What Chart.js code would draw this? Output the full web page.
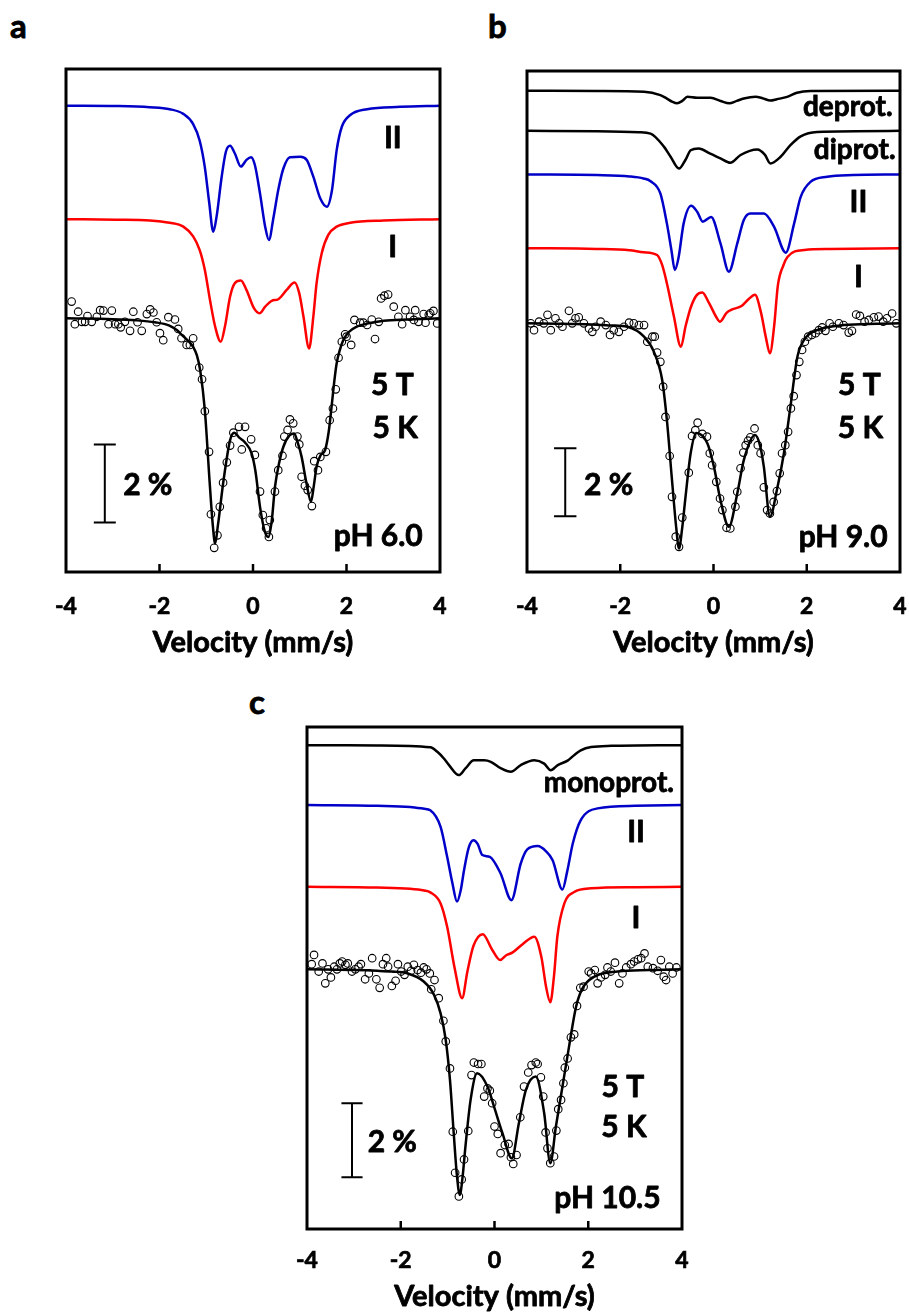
<!DOCTYPE html>
<html lang="en">
<head>
  <meta charset="UTF-8" />
  <title>Mössbauer spectra, pH 6.0 / 9.0 / 10.5</title>
  <script src="https://cdn.jsdelivr.net/npm/chart.js@4.4.0/dist/chart.umd.min.js"></script>
  <style>
    html, body { margin: 0; padding: 0; background: #fff; }
    body { width: 909px; height: 1316px; position: relative; overflow: hidden; }
    canvas { position: absolute; }
    .tag { position: absolute; font: bold 33px Lato, sans-serif; line-height: 1; color: #000;
           -webkit-text-stroke: 0.8px #000; }
  </style>
</head>
<body>

  <div class="tag" style="left:10px; top:9px">a</div>
  <div class="tag" style="left:488px; top:9px">b</div>
  <div class="tag" style="left:249px; top:685px">c</div>

  <canvas id="chartA" width="434" height="621" style="left:26px; top:49px"></canvas>
  <canvas id="chartB" width="422" height="619" style="left:487px; top:51px"></canvas>
  <canvas id="chartC" width="453" height="609" style="left:267px; top:707px"></canvas>

  <script>
    // ---- data: velocity (mm/s) and absorption (%) ----------------------------

    // panel a, pH 6.0
    const obsA_v = [-3.88,-3.81,-3.74,-3.66,-3.59,-3.54,-3.45,-3.34,-3.27,-3.2,-3.09,-3.02,-2.95,-2.88,-2.83,-2.74,-2.63,-2.56,-2.47,-2.38,-2.27,-2.2,-2.13,-2.06,-1.99,-1.92,-1.81,-1.67,-1.6,-1.53,-1.42,-1.35,-1.28,
      -1.15,-1.09,-1.03,-0.94,-0.9,-0.83,-0.76,-0.71,-0.64,-0.56,-0.49,-0.42,-0.3,-0.24,-0.17,-0.04,0.04,0.15,0.21,0.28,0.34,0.36,0.47,0.54,0.63,0.67,0.74,0.79,0.86,0.95,0.99,1.04,1.11,1.17,1.26,1.31,1.39,1.44,1.56,1.64,1.71,1.77,1.83,1.9,1.97,2.0,2.1,2.17,2.29,2.36,2.44,2.54,2.61,2.69,2.74,2.81,2.89,3.01,3.11,3.19,3.26,3.36,3.44,3.47,3.54,3.65,3.69,3.76,3.79,3.86,3.94];
    const obsA_d = [-0.43,0.15,-0.17,0.09,0.09,-0.06,0.09,-0.04,-0.21,-0.2,0.15,-0.2,0.15,0.15,0.23,0.09,0.32,-0.17,0.1,0.32,-0.11,-0.23,-0.15,0.1,0.38,0.56,-0.03,0.03,0.27,0.51,0.68,0.68,0.51,
      1.26,1.56,2.38,3.42,5.02,5.88,5.56,4.83,4.21,3.69,3.26,2.93,2.78,3.36,2.78,3.1,3.5,4.44,5.04,5.38,5.6,5.17,4.44,3.89,3.52,3.03,2.86,2.59,2.69,3.03,3.23,4.06,4.29,4.4,4.81,3.66,3.89,3.55,3.42,2.61,2.31,1.82,1.01,0.6,0.41,0.47,0.68,0.04,0.11,0.11,0.17,0.03,0.53,0.09,-0.51,-0.58,-0.61,-0.3,-0.04,0.15,-0.21,-0.04,0.04,-0.21,0.09,-0.11,0.11,-0.09,-0.13,-0.19,0.13];
    const fitA_v = [-4,-3,-2.5,-2.1,-1.8,-1.63,-1.5,-1.35,-1.28,-1.2,-1.13,-1.03,-0.93,-0.86,-0.81,-0.75,-0.63,-0.49,-0.4,-0.3,-0.17,-0.03,0.05,0.15,0.25,0.33,0.4,0.47,0.56,0.65,0.78,0.88,0.96,1.04,1.14,1.24,1.3,1.36,1.45,1.54,1.62,1.68,1.74,1.79,1.86,1.93,2.05,2.22,2.5,2.8,3.3,4];
    const fitA_d = [0,0.02,0.05,0.1,0.18,0.3,0.45,0.62,0.73,0.95,1.33,2.35,4.15,5.3,5.77,5.3,4.15,3.12,2.93,3.05,3.18,3.46,3.9,4.83,5.45,5.6,5.2,4.32,3.7,3.29,3.0,2.95,3.2,3.55,4.2,4.7,4.3,3.8,3.5,3.38,2.9,2.27,1.6,1.15,0.8,0.56,0.35,0.21,0.12,0.06,0.03,0];
    const siteIIA_v = [-4,-2.92,-2.21,-1.78,-1.49,-1.28,-1.14,-1.03,-0.94,-0.85,-0.78,-0.67,-0.58,-0.49,-0.39,-0.26,-0.14,-0.04,0.04,0.15,0.26,0.34,0.44,0.54,0.65,0.79,1.01,1.15,1.29,1.44,1.58,1.69,1.79,1.9,2.08,2.44,3.15,4];
    const siteIIA_d = [0,0.01,0.04,0.09,0.21,0.47,0.9,1.58,2.45,3.23,2.85,1.82,1.18,1.03,1.22,1.56,1.39,1.32,1.52,2.25,3.1,3.44,2.85,2.16,1.61,1.32,1.31,1.39,1.82,2.38,2.59,2.16,1.14,0.54,0.24,0.09,0.03,0];
    const siteIA_v = [-4,-2.92,-2.21,-1.78,-1.49,-1.28,-1.14,-1.03,-0.92,-0.81,-0.69,-0.6,-0.49,-0.39,-0.26,-0.14,0.02,0.14,0.26,0.4,0.54,0.72,0.89,0.99,1.08,1.2,1.29,1.36,1.47,1.61,1.79,2.08,2.79,4];
    const siteIA_d = [0,0.01,0.03,0.09,0.19,0.44,0.79,1.3,2.07,2.75,3.14,2.75,1.98,1.64,1.57,1.81,2.28,2.41,2.24,2.09,2.05,1.81,1.62,1.9,2.5,3.31,2.5,1.64,0.87,0.4,0.19,0.09,0.03,0];
    const offsetsA = { II: 5.45, I: 2.54 };

    // panel b, pH 9.0
    const obsB_v = [-3.92,-3.85,-3.74,-3.64,-3.56,-3.49,-3.39,-3.31,-3.24,-3.1,-3.03,-2.96,-2.89,-2.78,-2.67,-2.6,-2.53,-2.42,-2.31,-2.22,-2.14,-2.03,-1.92,-1.81,-1.71,-1.6,-1.49,-1.42,-1.31,-1.26,
      -1.21,-1.14,-1.08,-1.03,-0.94,-0.89,-0.81,-0.74,-0.67,-0.53,-0.46,-0.39,-0.34,-0.24,-0.14,-0.08,-0.03,0.06,0.14,0.19,0.28,0.36,0.47,0.51,0.58,0.64,0.69,0.74,0.79,0.88,0.95,1.01,1.08,1.15,1.21,1.29,1.36,1.42,1.47,1.54,1.6,1.66,1.72,1.78,1.84,1.9,1.96,2.03,2.11,2.19,2.26,2.33,2.4,2.49,2.56,2.69,2.79,2.9,2.97,3.06,3.14,3.24,3.33,3.44,3.54,3.64,3.72,3.83,3.92];
    const obsB_d = [0,0.2,-0.05,0,-0.25,0.2,-0.15,0,0.1,-0.37,0,-0.15,-0.18,0,0.15,0.25,0.1,-0.05,0.05,0.34,0.2,0.25,0.1,-0.02,0,0.05,0.05,0.54,0.39,0.39,
      0.86,1.13,1.86,2.75,3.9,5.1,6.27,6.57,5.71,4.39,3.31,3.14,2.92,3.25,3.33,3.82,4.17,4.66,5.15,5.49,6.01,6.03,5.39,4.95,4.26,3.8,3.58,3.45,3.35,3.09,3.58,3.82,4.82,5.49,5.59,5.25,4.93,4.41,3.82,3.58,3.19,2.5,2.14,1.52,1.13,0.78,0.54,0.39,0.34,0.29,0.2,0.12,0.22,0,0.1,0,0.05,0.27,0.22,-0.26,-0.22,-0.05,-0.1,-0.18,-0.2,-0.05,-0.15,-0.29,0];
    const fitB_v = [-4,-3,-2.5,-2.2,-1.85,-1.49,-1.28,-1.1,-1.0,-0.89,-0.8,-0.74,-0.67,-0.6,-0.49,-0.37,-0.13,0.01,0.15,0.33,0.51,0.65,0.89,1.0,1.08,1.21,1.36,1.51,1.65,1.8,1.94,2.22,2.8,3.5,4];
    const fitB_d = [0,0.02,0.04,0.06,0.1,0.39,0.83,1.67,2.84,4.61,6.0,6.62,6.0,5.1,3.82,3.22,3.53,4.22,5.2,5.98,5.0,4.02,3.28,3.6,4.22,5.69,4.9,3.82,2.45,0.98,0.49,0.2,0.05,0.01,0];
    const deprotB_v = [-4,-2.5,-1.49,-1.14,-1.0,-0.89,-0.78,-0.67,-0.56,-0.35,-0.06,0.15,0.34,0.5,0.65,0.9,1.05,1.22,1.36,1.58,1.79,2.08,4];
    const deprotB_d = [0,0.01,0.03,0.13,0.23,0.32,0.37,0.3,0.18,0.21,0.21,0.3,0.37,0.3,0.23,0.18,0.22,0.29,0.25,0.18,0.06,0.01,0];
    const diprotB_v = [-4,-2.5,-1.6,-1.35,-1.06,-0.92,-0.74,-0.6,-0.49,-0.32,-0.07,0.15,0.36,0.58,0.94,1.1,1.22,1.44,1.65,1.87,2.22,4];
    const diprotB_d = [0,0.01,0.04,0.08,0.47,0.76,1.11,0.85,0.57,0.52,0.67,0.81,0.94,0.71,0.55,0.7,0.96,0.76,0.42,0.16,0.03,0];
    const siteIIB_v = [-4,-2.5,-1.8,-1.5,-1.35,-1.14,-1.0,-0.9,-0.83,-0.75,-0.64,-0.48,-0.35,-0.23,-0.05,0.15,0.33,0.51,0.65,0.79,1.08,1.3,1.55,1.73,1.87,2.08,2.44,3,4];
    const siteIIB_d = [0,0.02,0.06,0.12,0.2,0.56,1.44,2.25,2.81,2.45,1.44,0.92,1.1,1.39,1.25,2.03,2.86,2.03,1.34,1.15,1.15,1.54,2.3,1.44,0.66,0.22,0.07,0.02,0];
    const siteIB_v = [-4,-2.5,-1.8,-1.5,-1.21,-1.1,-1.0,-0.85,-0.7,-0.6,-0.49,-0.36,-0.24,-0.1,0.05,0.14,0.28,0.4,0.6,0.75,0.89,1.02,1.12,1.21,1.3,1.38,1.5,1.59,1.95,2.5,4];
    const siteIB_d = [0,0.02,0.06,0.12,0.2,0.5,1.03,2.0,2.9,2.3,1.75,1.38,1.3,1.6,2.0,2.16,1.9,1.8,1.7,1.5,1.37,1.9,2.6,3.09,2.3,1.1,0.5,0.25,0.05,0.02,0];
    const offsetsB = { deprot: 6.84, diprot: 5.66, II: 4.38, I: 2.21 };

    // panel c, pH 10.5
    const obsC_v = [-3.9,-3.85,-3.75,-3.67,-3.61,-3.55,-3.49,-3.42,-3.36,-3.3,-3.25,-3.18,-3.13,-3.04,-2.97,-2.9,-2.85,-2.76,-2.68,-2.61,-2.52,-2.45,-2.38,-2.31,-2.27,-2.19,-2.11,-2.06,-1.99,-1.92,-1.85,-1.78,-1.72,-1.64,-1.57,-1.51,-1.45,-1.38,-1.35,-1.28,-1.19,
      -1.09,-1.04,-0.95,-0.89,-0.84,-0.76,-0.7,-0.65,-0.56,-0.49,-0.44,-0.35,-0.28,-0.22,-0.15,-0.1,-0.05,0.0,0.07,0.13,0.22,0.3,0.35,0.4,0.47,0.55,0.63,0.72,0.79,0.88,0.92,0.99,1.04,1.09,1.13,1.19,1.27,1.32,1.36,1.42,1.47,1.5,1.56,1.63,1.7,1.76,1.83,1.9,2.01,2.06,2.14,2.2,2.27,2.36,2.41,2.48,2.57,2.66,2.73,2.81,2.91,2.98,3.06,3.13,3.2,3.27,3.38,3.48,3.55,3.61,3.66,3.73,3.8,3.88];
    const obsC_d = [-0.14,-0.39,0.06,-0.16,0.38,0,0.22,-0.07,0,-0.16,-0.21,-0.12,-0.16,0.06,0,-0.07,-0.14,0.27,0.11,-0.3,0.27,0.5,-0.14,-0.3,-0.07,0.45,0.31,-0.14,0.06,0.15,-0.07,0.04,-0.12,0.02,0.09,-0.05,0,0.11,0.54,0.29,0.78,
      1.39,1.95,2.68,4.39,5.5,6.14,5.68,5.14,4.37,2.86,2.52,2.56,2.56,3.44,3.22,3.28,3.62,4.25,4.45,4.97,4.75,4.72,5.08,5.26,5.02,4.0,3.17,2.79,2.59,2.52,2.56,2.92,3.44,4.41,4.84,5.24,5.06,4.36,3.78,3.53,3.08,2.66,2.41,1.84,1.76,0.99,0.5,0.47,0.06,0.11,0.02,0.38,0.22,0.15,-0.05,0.06,-0.18,0.38,0.11,-0.05,-0.14,-0.21,-0.27,-0.3,-0.43,-0.07,-0.03,0.04,-0.25,0.2,0.29,-0.07,0.11,-0.05];
    const fitC_v = [-4,-3,-2.5,-2.2,-1.86,-1.51,-1.29,-1.15,-1.04,-0.95,-0.87,-0.8,-0.74,-0.68,-0.62,-0.51,-0.37,-0.15,-0.01,0.17,0.37,0.52,0.67,0.88,1.06,1.19,1.31,1.45,1.59,1.74,1.88,2.13,2.63,3.3,4];
    const fitC_d = [0,0.02,0.04,0.06,0.11,0.33,0.69,1.19,1.91,2.99,4.43,5.6,6.1,5.6,4.79,3.53,2.81,3.17,3.71,4.43,5.11,4.16,3.26,2.9,3.89,5.24,4.25,3.17,2.09,1.01,0.51,0.2,0.06,0.02,0];
    const monoprotC_v = [-4,-2.5,-1.37,-1.22,-1.08,-0.97,-0.76,-0.62,-0.44,-0.22,-0.08,0.14,0.35,0.56,0.85,1.06,1.2,1.35,1.56,1.7,1.84,2.06,2.5,4];
    const monoprotC_d = [0,0.01,0.06,0.18,0.36,0.54,0.81,0.63,0.41,0.41,0.45,0.63,0.72,0.54,0.41,0.5,0.68,0.54,0.42,0.27,0.14,0.05,0.02,0];
    const siteIIC_v = [-4,-2.5,-1.8,-1.5,-1.37,-1.15,-1.01,-0.9,-0.8,-0.72,-0.65,-0.55,-0.45,-0.36,-0.26,-0.1,0.13,0.36,0.56,0.7,0.92,1.1,1.24,1.45,1.55,1.67,1.84,2.2,3,4];
    const siteIIC_d = [0,0.02,0.05,0.1,0.14,0.59,1.4,2.1,2.61,2.3,1.76,1.15,0.95,1.05,1.35,1.4,1.85,2.57,1.58,1.2,1.11,1.25,1.49,2.28,1.8,1.04,0.41,0.09,0.02,0];
    const siteIC_v = [-4,-2.5,-1.8,-1.5,-1.37,-1.15,-1.01,-0.85,-0.69,-0.58,-0.45,-0.25,-0.05,0.12,0.25,0.38,0.6,0.85,1.0,1.1,1.19,1.27,1.34,1.49,1.7,2.06,3,4];
    const siteIC_d = [0,0.02,0.05,0.1,0.15,0.45,1.08,2.2,3.01,2.3,1.6,1.28,1.7,1.98,1.85,1.78,1.55,1.35,1.9,2.7,3.12,2.4,1.35,0.45,0.14,0.04,0.01,0];
    const offsetsC = { monoprot: 6.06, II: 4.44, I: 2.23 };

    const velTicks = [-4, -2, 0, 2, 4];
    const velTitle = 'Velocity (mm/s)';
    const scaleBarPct = 2;

    // ---- helpers ---------------------------------------------------------------
    const BLUE = '#0000c8', RED = '#ff0000', BLACK = '#000';
    const FONT = 'Lato';
    const pairs = (vs, ds, off = 0) => vs.map((v, i) => ({ x: v, y: off - ds[i] }));

    const curve = (data, color) => ({
      data, showLine: true, borderColor: color, borderWidth: 2.5,
      pointRadius: 0, cubicInterpolationMode: 'monotone'
    });

    // vertical 2 % bar with caps, drawn as one path
    const scaleBar = (v, top, half) => ({
      data: [
        { x: v - half, y: top }, { x: v + half, y: top }, { x: v, y: top },
        { x: v, y: top - scaleBarPct }, { x: v - half, y: top - scaleBarPct }, { x: v + half, y: top - scaleBarPct }
      ],
      showLine: true, borderColor: BLACK, borderWidth: 2, pointRadius: 0, tension: 0
    });

    // heavy text: fill plus a thin stroke, to get close to the original bold face
    function heavyText(ctx, txt, x, y, size) {
      ctx.font = `bold ${size}px ${FONT}`;
      ctx.lineWidth = 0.8;
      ctx.lineJoin = 'round';
      ctx.fillText(txt, x, y);
      ctx.strokeText(txt, x, y);
    }

    const framePlugin = {
      id: 'frame',
      afterDatasetsDraw(chart, args, opts) {
        const { ctx, chartArea: a, scales: { x, y } } = chart;
        ctx.save();
        ctx.strokeStyle = BLACK;
        ctx.lineWidth = 2.5;
        velTicks.slice(1, -1).forEach(t => {
          const px = x.getPixelForValue(t);
          ctx.beginPath(); ctx.moveTo(px, a.bottom); ctx.lineTo(px, a.bottom - 8); ctx.stroke();
        });
        ctx.lineWidth = 3;
        ctx.strokeRect(a.left, a.top, a.right - a.left, a.bottom - a.top);
        ctx.fillStyle = BLACK;
        ctx.textAlign = 'center';
        ctx.textBaseline = 'middle';
        (opts.labels || []).forEach(([txt, v, yv, size]) => {
          heavyText(ctx, txt, x.getPixelForValue(v), y.getPixelForValue(yv), size);
        });
        // axis title under the tick labels
        heavyText(ctx, velTitle, (a.left + a.right) / 2, a.bottom + opts.titleOff, 29);
        ctx.restore();
      }
    };

    function makePanel(id, p) {
      new Chart(document.getElementById(id), {
        type: 'scatter',
        data: {
          datasets: [
            { data: p.obs, pointRadius: 3.8, borderWidth: 1.1, borderColor: BLACK,
              backgroundColor: 'rgba(0,0,0,0)', pointHoverRadius: 3.8 },
            curve(p.fit, BLACK),
            ...p.comps.map(c => curve(c.data, c.color)),
            scaleBar(p.bar[0], p.bar[1], p.bar[2])
          ]
        },
        options: {
          responsive: false, animation: false, devicePixelRatio: 1, events: [],
          layout: { padding: { left: p.pad[0], right: p.pad[1], top: p.pad[2], bottom: 0 } },
          plugins: {
            legend: { display: false }, tooltip: { enabled: false },
            frame: { labels: p.labels, titleOff: p.titleOff }
          },
          scales: {
            x: {
              type: 'linear', min: -4, max: 4,
              afterBuildTicks: s => { s.ticks = velTicks.map(v => ({ value: v })); },
              ticks: { color: BLACK, padding: 0, textStrokeColor: BLACK, textStrokeWidth: 0.7,
                       font: { family: FONT, weight: 'bold', size: 23 } },
              // invisible tick marks only push the labels down
              grid: { display: true, drawOnChartArea: false, drawTicks: true,
                      tickLength: p.tickGap, color: 'rgba(0,0,0,0)' },
              border: { display: false },
              afterFit: s => { s.height = p.axisH; }
            },
            y: { display: false, min: p.y[0], max: p.y[1] }
          }
        },
        plugins: [framePlugin]
      });
    }

    makePanel('chartA', {
      obs: pairs(obsA_v, obsA_d), fit: pairs(fitA_v, fitA_d),
      comps: [
        { data: pairs(siteIIA_v, siteIIA_d, offsetsA.II), color: BLUE },
        { data: pairs(siteIA_v, siteIA_d, offsetsA.I), color: RED }
      ],
      y: [-6.5, 6.39], pad: [40, 20, 20], axisH: 98, tickGap: 21, titleOff: 71,
      bar: [-3.17, -3.23, 0.235],
      labels: [['II', 2.99, 4.62, 30], ['I', 2.99, 1.82, 30], ['5 T', 2.98, -1.72, 30],
               ['5 K', 3.04, -2.82, 30], ['pH 6.0', 2.68, -5.59, 30], ['2 %', -2.25, -4.28, 30]]
    });

    makePanel('chartB', {
      obs: pairs(obsB_v, obsB_d), fit: pairs(fitB_v, fitB_d),
      comps: [
        { data: pairs(deprotB_v, deprotB_d, offsetsB.deprot), color: BLACK },
        { data: pairs(diprotB_v, diprotB_d, offsetsB.diprot), color: BLACK },
        { data: pairs(siteIIB_v, siteIIB_d, offsetsB.II), color: BLUE },
        { data: pairs(siteIB_v, siteIB_d, offsetsB.I), color: RED }
      ],
      y: [-7.31, 7.42], pad: [40, 9, 20], axisH: 98, tickGap: 21, titleOff: 71,
      bar: [-3.18, -3.67, 0.24],
      labels: [['deprot.', 2.88, 6.36, 28], ['diprot.', 3.03, 5.1, 28], ['II', 3.11, 3.57, 30],
               ['I', 3.11, 1.36, 30], ['5 T', 3.13, -1.81, 30], ['5 K', 3.15, -3.08, 30],
               ['pH 9.0', 2.78, -6.29, 30], ['2 %', -2.25, -4.76, 30]]
    });

    makePanel('chartC', {
      obs: pairs(obsC_v, obsC_d), fit: pairs(fitC_v, fitC_d),
      comps: [
        { data: pairs(monoprotC_v, monoprotC_d, offsetsC.monoprot), color: BLACK },
        { data: pairs(siteIIC_v, siteIIC_d, offsetsC.II), color: BLUE },
        { data: pairs(siteIC_v, siteIC_d, offsetsC.I), color: RED }
      ],
      y: [-7.02, 6.55], pad: [40, 38, 20], axisH: 87, tickGap: 18, titleOff: 68,
      bar: [-3.04, -3.62, 0.225],
      labels: [['monoprot.', 2.44, 5.03, 28], ['II', 3.02, 3.7, 30], ['I', 3.02, 1.38, 30],
               ['5 T', 2.74, -3.19, 30], ['5 K', 2.76, -4.27, 30], ['pH 10.5', 2.41, -6.19, 30],
               ['2 %', -2.18, -4.68, 30]]
    });
  </script>
</body>
</html>
